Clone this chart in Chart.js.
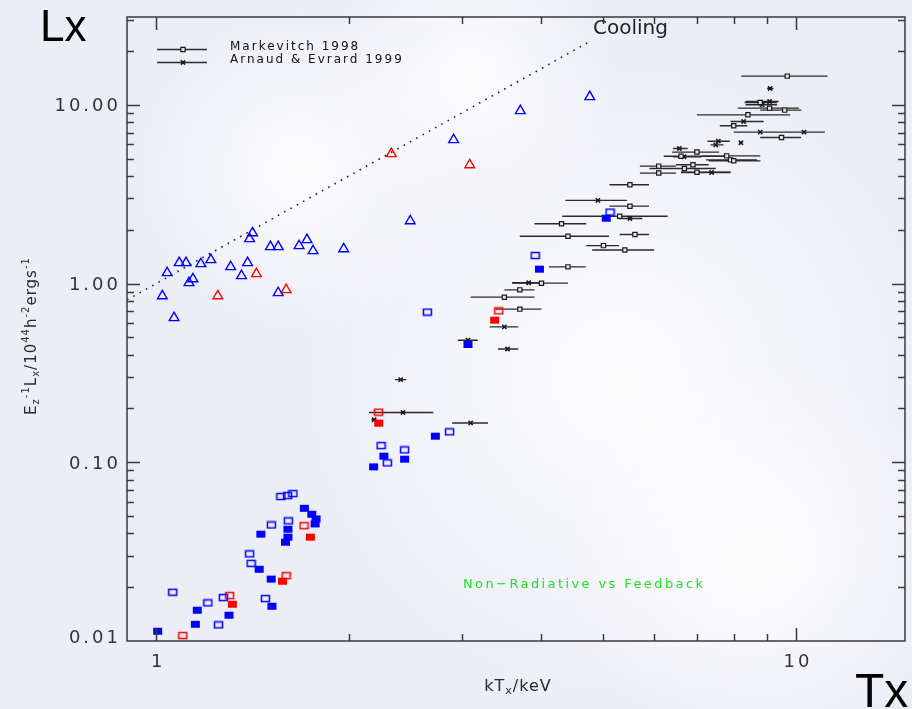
<!DOCTYPE html>
<html>
<head>
<meta charset="utf-8">
<script src="https://cdn.jsdelivr.net/npm/chart.js@4.4.0/dist/chart.umd.min.js"></script>
<style>
	html, body { margin: 0; padding: 0; background: #eff0f7; }
	#wrap { width: 912px; height: 709px; }
</style>
</head>
<body>
<div id="wrap"><canvas id="chart" width="912" height="709"></canvas></div>
<script>
'use strict';

// axis ranges and labelled ticks
var xRange = [0.9, 14.8];
var yRange = [0.01, 31];
var xTickLabels = [1, 10];
var yTickLabels = [0.01, 0.1, 1, 10];

// Markevitch 1998 (kT, lower, upper, Lx)
var markT  = [9.69, 8.79, 9.09, 9.60, 8.41, 7.99, 9.49, 7.00, 7.79, 7.90, 7.99, 6.10, 6.90, 6.69, 6.10, 7.00, 6.61, 5.50, 5.50, 5.30, 4.30, 4.40, 5.60, 5.00, 5.40, 4.40, 4.00, 3.70, 3.50, 3.70];
var markLo = [8.21, 8.31, 8.11, 8.79, 7.00, 7.60, 8.79, 6.40, 7.14, 7.23, 7.30, 5.70, 6.49, 5.90, 5.70, 6.61, 6.21, 5.11, 5.11, 4.31, 3.90, 3.70, 5.30, 4.70, 4.80, 4.11, 3.60, 3.50, 3.10, 3.39];
var markHi = [11.20, 9.34, 10.10, 10.19, 9.79, 8.39, 10.18, 7.58, 8.79, 8.69, 8.80, 6.49, 7.30, 7.49, 6.49, 7.90, 7.76, 5.89, 5.89, 6.30, 4.70, 5.10, 5.89, 5.29, 6.00, 4.69, 4.40, 3.90, 3.90, 4.00];
var markL  = [14.47, 10.30, 9.58, 9.34, 8.79, 7.63, 6.56, 5.44, 5.18, 4.92, 4.86, 4.54, 4.62, 4.40, 4.15, 4.20, 5.16, 3.57, 2.71, 2.38, 2.16, 1.84, 1.88, 1.63, 1.54, 1.24, 1.005, 0.922, 0.839, 0.719];

// Arnaud & Evrard 1999 (kT, lower, upper, Lx)
var arnT  = [9.11, 9.09, 8.85, 8.28, 8.79, 10.29, 7.56, 7.49, 8.20, 6.57, 6.68, 7.38, 4.90, 5.50, 3.82, 3.50, 3.07, 3.54, 2.41, 2.43, 3.10, 2.19];
var arnLo = [9.01, 8.34, 8.34, 7.90, 7.99, 9.50, 7.27, 7.35, 8.15, 6.42, 6.42, 6.61, 4.36, 5.27, 3.60, 3.32, 2.96, 3.42, 2.36, 2.15, 2.90, 2.17];
var arnHi = [9.22, 9.39, 9.34, 8.90, 9.50, 11.09, 7.88, 7.70, 8.25, 6.77, 7.12, 7.90, 5.44, 5.75, 4.01, 3.68, 3.18, 3.68, 2.46, 2.71, 3.30, 2.21];
var arnL  = [12.34, 10.43, 10.0, 8.06, 7.03, 7.03, 6.26, 5.97, 6.13, 5.70, 5.12, 4.18, 2.92, 2.31, 1.01, 0.572, 0.482, 0.430, 0.290, 0.190, 0.166, 0.173];

// simulated clusters, triangles
var triBlueT = [2.916, 2.494, 1.414, 1.399, 1.508, 1.551, 1.720, 1.672, 1.758, 1.963, 1.086, 1.113, 1.174, 1.217, 1.040, 1.307, 1.389, 1.359, 1.141, 1.125, 1.022, 1.551, 1.066, 3.707, 4.759];
var triBlueL = [6.37, 2.24, 1.92, 1.78, 1.605, 1.605, 1.757, 1.625, 1.524, 1.563, 1.306, 1.306, 1.289, 1.357, 1.148, 1.240, 1.306, 1.104, 1.062, 1.009, 0.853, 0.887, 0.643, 9.26, 11.09];
var triRedT = [2.330, 3.090, 1.434, 1.248, 1.596];
var triRedL = [5.32, 4.61, 1.133, 0.853, 0.922];

// simulated clusters, squares
var sqBlueOpenT = [1.566, 1.604, 1.635, 1.513, 1.608, 1.399, 1.407, 1.061, 1.204, 1.273, 1.481, 1.251, 3.91, 5.12, 2.653, 2.873, 2.246, 2.444, 2.297];
var sqBlueOpenL = [0.0643, 0.0651, 0.0668, 0.0446, 0.0470, 0.0307, 0.0272, 0.01875, 0.01633, 0.0175, 0.01727, 0.0123, 1.435, 2.51, 0.692, 0.148, 0.124, 0.1173, 0.0992];
var sqBlueFillT = [1.704, 1.750, 1.777, 1.771, 1.457, 1.606, 1.606, 1.592, 1.448, 1.512, 1.159, 1.299, 1.151, 1.516, 1.005, 3.97, 5.05, 3.07, 2.73, 2.268, 2.186, 2.444];
var sqBlueFillL = [0.0553, 0.0512, 0.0482, 0.0452, 0.0396, 0.0422, 0.0381, 0.0357, 0.0252, 0.0222, 0.01487, 0.01394, 0.0124, 0.01565, 0.01134, 1.204, 2.32, 0.456, 0.140, 0.1082, 0.0943, 0.1041];
var sqRedOpenT = [1.702, 1.596, 1.302, 1.100, 3.43, 2.225];
var sqRedOpenL = [0.0442, 0.0232, 0.01795, 0.01072, 0.703, 0.1907];
var sqRedFillT = [1.741, 1.575, 1.315, 3.38, 2.227];
var sqRedFillL = [0.0381, 0.0216, 0.01606, 0.624, 0.1655];

// Lx ~ T^2 cooling line end points
var coolingT = [0.9, 4.8];
var coolingL = [0.81, 23.0];

function points(t, l) {
	var d = [];
	for (var i = 0; i < t.length; i++) {
		d.push({x: t[i], y: l[i]});
	}
	return d;
}

function errorBars(lo, hi, l) {
	var d = [];
	for (var i = 0; i < l.length; i++) {
		d.push({x: lo[i], y: l[i]});
		d.push({x: hi[i], y: l[i]});
		d.push({x: hi[i], y: null});
	}
	return d;
}

var BLUE = '#0000ff';
var RED = '#ff0000';
var INK = '#1a1a1a';

// slightly wide box marker, like the IDL squares
function boxMarker(color, filled) {
	var c = document.createElement('canvas');
	c.width = 11;
	c.height = 9;
	var g = c.getContext('2d');
	if (filled) {
		g.fillStyle = color;
		g.fillRect(1, 1, 9, 7);
	} else {
		g.strokeStyle = color;
		g.lineWidth = 1.5;
		g.strokeRect(1.5, 1.5, 8, 6);
	}
	return c;
}

function squareSet(t, l, color, filled, order) {
	return {
		data: points(t, l),
		pointStyle: boxMarker(color, filled),
		pointRadius: 5,
		order: order
	};
}

function triangleSet(t, l, color) {
	return {
		data: points(t, l),
		pointStyle: 'triangle',
		pointRadius: 5.6,
		borderColor: color,
		backgroundColor: 'rgba(0,0,0,0)',
		borderWidth: 1.4,
		order: 2
	};
}

var datasets = [
	squareSet(sqBlueFillT, sqBlueFillL, BLUE, true, 1),
	squareSet(sqRedFillT, sqRedFillL, RED, true, 1),
	squareSet(sqBlueOpenT, sqBlueOpenL, BLUE, false, 2),
	squareSet(sqRedOpenT, sqRedOpenL, RED, false, 2),
	triangleSet(triBlueT, triBlueL, BLUE),
	triangleSet(triRedT, triRedL, RED),
	{
		data: points(markT, markL),
		pointStyle: 'rect',
		pointRadius: 3,
		borderColor: INK,
		backgroundColor: '#e6e6e6',
		borderWidth: 1.2,
		order: 3
	},
	{
		data: points(arnT, arnL),
		pointStyle: 'crossRot',
		pointRadius: 3,
		borderColor: INK,
		borderWidth: 1.6,
		order: 3
	},
	{
		type: 'line',
		data: errorBars(markLo, markHi, markL),
		borderColor: '#2b2b2b',
		borderWidth: 1.4,
		pointRadius: 0,
		spanGaps: false,
		order: 4
	},
	{
		type: 'line',
		data: errorBars(arnLo, arnHi, arnL),
		borderColor: '#2b2b2b',
		borderWidth: 1.4,
		pointRadius: 0,
		spanGaps: false,
		order: 4
	},
	{
		type: 'line',
		data: points(coolingT, coolingL),
		borderColor: '#222',
		borderWidth: 1.6,
		borderDash: [1.6, 5.6],
		pointRadius: 0,
		order: 5
	}
];

// draws pieces of text with raised / lowered parts, returns width
function richText(ctx, parts, x, y, measureOnly) {
	var w = 0;
	for (var i = 0; i < parts.length; i++) {
		ctx.font = parts[i][1] + 'px "DejaVu Sans"';
		if (!measureOnly) {
			ctx.fillText(parts[i][0], x + w, y + parts[i][2]);
		}
		w += ctx.measureText(parts[i][0]).width;
	}
	return w;
}

var background = {
	id: 'background',
	beforeDraw: function (chart) {
		var ctx = chart.ctx;
		ctx.save();
		ctx.fillStyle = '#eceef6';
		ctx.fillRect(0, 0, chart.width, chart.height);
		var blobs = [[620, 380, 330], [300, 170, 170], [760, 560, 200], [470, 80, 150]];
		for (var i = 0; i < blobs.length; i++) {
			var g = ctx.createRadialGradient(blobs[i][0], blobs[i][1], 0, blobs[i][0], blobs[i][1], blobs[i][2]);
			g.addColorStop(0, 'rgba(255,255,255,0.85)');
			g.addColorStop(1, 'rgba(255,255,255,0)');
			ctx.fillStyle = g;
			ctx.fillRect(0, 0, chart.width, chart.height);
		}
		ctx.restore();
	}
};

var frame = {
	id: 'frame',
	afterDraw: function (chart) {
		var ctx = chart.ctx;
		var a = chart.chartArea;
		var xs = chart.scales.x;
		var ys = chart.scales.y;
		ctx.save();
		ctx.strokeStyle = '#3a3a3a';
		ctx.lineWidth = 1.5;
		ctx.strokeRect(a.left, a.top, a.right - a.left, a.bottom - a.top);

		ctx.beginPath();
		var decades = [0.01, 0.1, 1, 10];
		for (var d = 0; d < decades.length; d++) {
			for (var m = 1; m <= 9; m++) {
				var v = decades[d] * m;
				var len = m === 1 ? 13 : 7;
				if (v > xRange[0] && v < xRange[1]) {
					var px = Math.round(xs.getPixelForValue(v)) + 0.5;
					ctx.moveTo(px, a.bottom); ctx.lineTo(px, a.bottom - len);
					ctx.moveTo(px, a.top); ctx.lineTo(px, a.top + len);
				}
				if (v > yRange[0] && v < yRange[1]) {
					var py = Math.round(ys.getPixelForValue(v)) + 0.5;
					ctx.moveTo(a.left, py); ctx.lineTo(a.left + len, py);
					ctx.moveTo(a.right, py); ctx.lineTo(a.right - len, py);
				}
			}
		}
		ctx.stroke();

		// tick labels
		ctx.fillStyle = '#333';
		ctx.font = '18px "DejaVu Sans"';
		ctx.letterSpacing = '3px';
		ctx.textBaseline = 'middle';
		ctx.textAlign = 'right';
		for (var i = 0; i < yTickLabels.length; i++) {
			var yy = ys.getPixelForValue(yTickLabels[i]);
			if (i === 0) yy -= 5;
			ctx.fillText(yTickLabels[i].toFixed(2), 121, yy + 2);
		}
		ctx.textAlign = 'center';
		for (i = 0; i < xTickLabels.length; i++) {
			ctx.fillText(String(xTickLabels[i]), xs.getPixelForValue(xTickLabels[i]) + 2, 662);
		}

		// axis titles
		ctx.fillStyle = '#2a2a2a';
		ctx.letterSpacing = '1px';
		ctx.textAlign = 'left';
		ctx.textBaseline = 'alphabetic';
		var xTitle = [['kT', 16, 0], ['x', 11, 3], ['/keV', 16, 0]];
		var w = richText(ctx, xTitle, 0, 0, true);
		richText(ctx, xTitle, 518 - w / 2, 691, false);

		var yTitle = [['E', 15, 0], ['z', 10, 3], ['-1', 10, -7], ['L', 15, 0], ['x', 10, 3],
			['/10', 15, 0], ['44', 10, -7], ['h', 15, 0], ['-2', 10, -7], ['ergs', 15, 0], ['-1', 10, -7]];
		ctx.save();
		ctx.translate(36, 336);
		ctx.rotate(-Math.PI / 2);
		w = richText(ctx, yTitle, 0, 0, true);
		richText(ctx, yTitle, -w / 2, 0, false);
		ctx.restore();

		// legend
		var legendRows = [['Markevitch 1998', 49, 'rect'], ['Arnaud & Evrard 1999', 62, 'crossRot']];
		ctx.font = '12px "DejaVu Sans"';
		ctx.letterSpacing = '2px';
		ctx.textBaseline = 'middle';
		for (i = 0; i < legendRows.length; i++) {
			var ly = legendRows[i][1] + 0.5;
			ctx.strokeStyle = '#2b2b2b';
			ctx.lineWidth = 1.3;
			ctx.beginPath();
			ctx.moveTo(157, ly); ctx.lineTo(207, ly);
			ctx.stroke();
			ctx.strokeStyle = INK;
			ctx.fillStyle = '#e6e6e6';
			ctx.lineWidth = legendRows[i][2] === 'rect' ? 1.2 : 1.6;
			Chart.helpers.drawPoint(ctx, {pointStyle: legendRows[i][2], radius: 3, rotation: 0, borderWidth: ctx.lineWidth}, 183, ly);
			ctx.fillStyle = '#111';
			ctx.fillText(legendRows[i][0], 230, legendRows[i][1] - 2);
		}

		// annotations
		ctx.letterSpacing = '0px';
		ctx.fillStyle = '#222';
		ctx.textBaseline = 'alphabetic';
		ctx.font = '20px "DejaVu Sans"';
		ctx.fillText('Cooling', 593, 34);

		ctx.fillStyle = '#1fe01f';
		ctx.font = '13px "DejaVu Sans"';
		ctx.letterSpacing = '2.4px';
		ctx.fillText('Non\u2212Radiative vs Feedback', 463, 588);

		ctx.letterSpacing = '0px';
		ctx.fillStyle = '#000';
		ctx.font = '44px "Liberation Sans"';
		ctx.fillText('Lx', 40, 41);
		ctx.font = '48px "Liberation Sans"';
		ctx.fillText('Tx', 855, 707);
		ctx.restore();
	}
};

new Chart(document.getElementById('chart'), {
	type: 'scatter',
	data: {datasets: datasets},
	options: {
		responsive: false,
		animation: false,
		events: [],
		layout: {padding: {left: 127, top: 17, right: 1, bottom: 68}},
		scales: {
			x: {type: 'logarithmic', min: xRange[0], max: xRange[1], display: false},
			y: {type: 'logarithmic', min: yRange[0], max: yRange[1], display: false}
		},
		plugins: {
			legend: {display: false},
			tooltip: {enabled: false}
		}
	},
	plugins: [background, frame]
});
</script>
</body>
</html>
